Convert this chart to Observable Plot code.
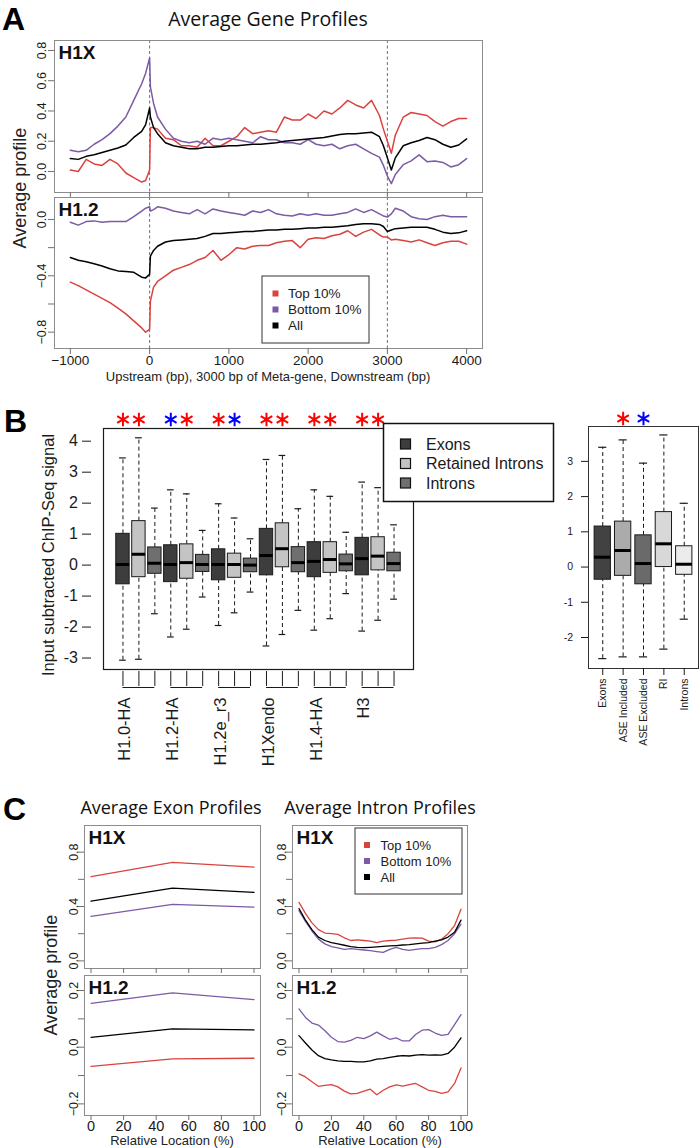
<!DOCTYPE html>
<html><head><meta charset="utf-8">
<script src="https://cdn.jsdelivr.net/npm/d3@7"></script>
<script src="https://cdn.jsdelivr.net/npm/@observablehq/plot@0.6"></script>
<style>
body{margin:0;background:#fff;}
#root{position:relative;width:700px;height:1148px;overflow:hidden;background:#fff;}
</style></head><body><div id="root"></div>
<script>
// ================= DATA =================
// Panel A: average gene profiles (x in bp)
const aX = [-1000,-900,-800,-700,-600,-500,-400,-300,-200,-100,
  -50,0,10,50,
  100,200,300,400,500,600,700,800,900,1000,
  1100,1200,1300,1400,1500,1600,1700,1800,1900,2000,
  2100,2200,2300,2400,2500,2600,2700,2800,2900,
  2950,3000,3050,
  3100,3200,3300,3400,3500,3600,3700,3800,3900,4000];
const aH1X_top = [0.01,0.00,0.08,0.05,0.04,0.08,0.05,-0.01,-0.04,-0.07,
  -0.06,0.01,0.29,0.29,
  0.28,0.22,0.21,0.17,0.17,0.16,0.22,0.17,0.17,0.20,
  0.23,0.29,0.25,0.26,0.27,0.26,0.36,0.34,0.34,0.38,
  0.35,0.40,0.38,0.42,0.47,0.44,0.42,0.47,0.37,
  0.28,0.20,0.12,
  0.24,0.36,0.39,0.38,0.37,0.33,0.30,0.33,0.35,0.35];
const aH1X_bottom = [0.14,0.13,0.14,0.18,0.21,0.25,0.30,0.36,0.47,0.58,
  0.65,0.75,0.56,0.45,
  0.36,0.28,0.22,0.20,0.19,0.20,0.18,0.22,0.21,0.22,
  0.21,0.20,0.19,0.23,0.21,0.21,0.19,0.19,0.18,0.21,
  0.18,0.17,0.18,0.15,0.17,0.18,0.15,0.12,0.095,
  0.04,-0.03,-0.08,
  -0.02,0.045,0.07,0.11,0.065,0.07,0.06,0.03,0.045,0.085];
const aH1X_all = [0.085,0.08,0.10,0.11,0.125,0.14,0.155,0.175,0.225,0.265,
  0.31,0.42,0.36,0.29,
  0.25,0.19,0.17,0.16,0.15,0.15,0.16,0.16,0.165,0.17,
  0.17,0.175,0.18,0.18,0.185,0.19,0.20,0.205,0.21,0.215,
  0.22,0.225,0.235,0.245,0.25,0.25,0.255,0.26,0.23,
  0.17,0.09,0.01,
  0.09,0.17,0.19,0.205,0.225,0.21,0.18,0.16,0.175,0.215];
const aH12_top = [-0.445,-0.47,-0.50,-0.53,-0.56,-0.59,-0.63,-0.67,-0.72,-0.77,
  -0.80,-0.78,-0.58,-0.48,
  -0.44,-0.40,-0.36,-0.34,-0.32,-0.29,-0.27,-0.22,-0.29,-0.25,
  -0.20,-0.21,-0.19,-0.185,-0.185,-0.165,-0.155,-0.15,-0.20,-0.14,
  -0.13,-0.135,-0.115,-0.105,-0.08,-0.12,-0.09,-0.07,-0.11,
  -0.125,-0.125,-0.145,
  -0.14,-0.15,-0.16,-0.145,-0.165,-0.185,-0.165,-0.155,-0.155,-0.175];
const aH12_bottom = [-0.02,-0.04,-0.015,-0.01,-0.02,-0.015,-0.015,-0.015,0.02,0.06,
  0.08,0.09,0.06,0.07,
  0.09,0.08,0.06,0.05,0.04,0.07,0.04,0.075,0.06,0.05,
  0.04,0.03,0.06,0.05,0.07,0.04,0.03,0.025,0.04,0.03,
  0.04,0.03,0.03,0.04,0.05,0.075,0.05,0.07,0.04,
  0.025,0.017,0.04,
  0.08,0.06,0.02,0.005,0.0,0.02,0.03,0.02,0.02,0.02];
const aH12_all = [-0.27,-0.29,-0.30,-0.315,-0.33,-0.35,-0.365,-0.37,-0.375,-0.41,
  -0.415,-0.39,-0.26,-0.22,
  -0.19,-0.16,-0.15,-0.145,-0.14,-0.135,-0.12,-0.10,-0.10,-0.095,
  -0.09,-0.085,-0.085,-0.08,-0.075,-0.075,-0.07,-0.07,-0.065,-0.06,
  -0.06,-0.055,-0.055,-0.05,-0.045,-0.035,-0.03,-0.03,-0.035,
  -0.05,-0.085,-0.075,
  -0.065,-0.06,-0.055,-0.055,-0.055,-0.07,-0.09,-0.10,-0.095,-0.08];
const aXDomain = [-1200, 4200];
const aH1XDomain = [-0.139, 0.866];
const aH12Domain = [-0.916, 0.156];
const aXTicks = [-1000,0,1000,2000,3000,4000];
const aH1XTicks = [0,0.2,0.4,0.6,0.8];
const aH12Ticks = [-0.8,-0.6,-0.4,-0.2,0];
const aH12Labeled = [-0.8,-0.4,0];
const aMarkers = [0,3000];
const profileLegend = ["Top 10%","Bottom 10%","All"];

// Panel B (left): boxplots per histone, 3 regions each
const bGroups = ["H1.0-HA","H1.2-HA","H1.2e_r3","H1Xendo","H1.4-HA","H3"];
const bRegions = ["Exons","Retained Introns","Introns"];
const bWHigh = [3.46,4.11,1.84, 2.43,2.30,1.12, 1.98,1.52,0.85, 3.41,3.54,1.82, 2.43,2.22,1.06, 2.68,2.50,1.30];
const bQ3    = [1.01,1.42,0.57, 0.64,0.67,0.33, 0.51,0.37,0.21, 1.17,1.35,0.58, 0.74,0.74,0.34, 0.88,0.90,0.40];
const bMed   = [0.02,0.35,0.06, 0.02,0.08,0.02, 0.02,0.02,0.00, 0.31,0.53,0.08, 0.12,0.18,0.04, 0.21,0.29,0.05];
const bQ1    = [-0.62,-0.39,-0.28, -0.55,-0.44,-0.22, -0.49,-0.41,-0.23, -0.33,-0.07,-0.23, -0.39,-0.25,-0.20, -0.33,-0.17,-0.20];
const bWLow  = [-3.07,-3.04,-1.57, -2.32,-2.07,-1.03, -1.95,-1.54,-0.87, -2.61,-2.24,-1.46, -2.10,-1.73,-0.92, -2.13,-1.78,-1.10];
const bStarColors = ["red","red", "blue","red", "red","blue", "red","red", "red","red", "red","red"];
const bYDomain = [-3.37, 4.41];
const bYTicks = [-3,-2,-1,0,1,2,3,4];
const bRegionFills = ["#3d3d3d","#c4c4c4","#6f6f6f"];

// Panel B (right)
const rCats = ["Exons","ASE Included","ASE Excluded","RI","Introns"];
const rWHigh = [3.40,3.61,2.95,3.75,1.81];
const rQ3    = [1.15,1.29,0.90,1.56,0.59];
const rMed   = [0.28,0.47,0.10,0.66,0.08];
const rQ1    = [-0.36,-0.25,-0.49,0.00,-0.22];
const rWLow  = [-2.60,-2.55,-2.55,-2.33,-1.48];
const rStars = [{cat: 2, color: "red"}, {cat: 3, color: "blue"}];
const rYDomain = [-2.88, 3.99];
const rYTicks = [-2,-1,0,1,2,3];
const rFills = ["#424242","#ababab","#6a6a6a","#d8d8d8","#ececec"];

// Panel C: exon and intron profiles
const cExonX = [0,50,100];
const cExonH1X_top = [0.62,0.725,0.69];
const cExonH1X_bottom = [0.328,0.416,0.396];
const cExonH1X_all = [0.44,0.536,0.504];
const cExonH12_top = [-0.068,-0.041,-0.039];
const cExonH12_bottom = [0.155,0.192,0.168];
const cExonH12_all = [0.035,0.065,0.061];
const cIntronX = [0,4,8,12,16,20,24,28,32,36,40,44,48,52,56,60,64,68,72,76,80,84,88,92,96,100];
const cIntronH1X_top = [0.43,0.35,0.28,0.23,0.205,0.20,0.195,0.17,0.15,0.155,0.15,0.145,0.135,0.145,0.15,0.152,0.16,0.168,0.17,0.168,0.145,0.14,0.16,0.20,0.26,0.38];
const cIntronH1X_all = [0.385,0.30,0.23,0.175,0.15,0.135,0.125,0.115,0.105,0.10,0.098,0.10,0.103,0.107,0.11,0.113,0.117,0.12,0.125,0.13,0.135,0.145,0.155,0.175,0.21,0.30];
const cIntronH1X_bottom = [0.37,0.29,0.22,0.16,0.125,0.105,0.095,0.085,0.09,0.085,0.08,0.075,0.068,0.062,0.085,0.10,0.085,0.078,0.085,0.09,0.09,0.10,0.12,0.15,0.20,0.27];
const cIntronH12_bottom = [0.135,0.105,0.085,0.078,0.058,0.035,0.02,0.018,0.024,0.035,0.03,0.04,0.053,0.04,0.028,0.033,0.022,0.022,0.045,0.06,0.062,0.05,0.042,0.045,0.08,0.115];
const cIntronH12_all = [0.041,0.015,-0.01,-0.03,-0.04,-0.045,-0.048,-0.05,-0.05,-0.052,-0.052,-0.048,-0.042,-0.04,-0.036,-0.032,-0.03,-0.031,-0.028,-0.026,-0.028,-0.027,-0.028,-0.022,0.0,0.033];
const cIntronH12_top = [-0.094,-0.105,-0.122,-0.138,-0.135,-0.132,-0.14,-0.155,-0.165,-0.163,-0.155,-0.148,-0.168,-0.152,-0.14,-0.133,-0.137,-0.132,-0.128,-0.14,-0.152,-0.156,-0.163,-0.158,-0.128,-0.073];
const cXDomain = [-4, 104];
const cTopDomain = [-0.056, 0.996];
const cBotDomain = [-0.241, 0.253];
const cXTicks = [0,20,40,60,80,100];
const cTopTicks = [0,0.2,0.4,0.6,0.8];
const cTopLabeled = [0,0.4,0.8];
const cBotTicks = [-0.2,-0.1,0,0.1,0.2];
const cBotLabeled = [-0.2,0,0.2];

// ================= STYLE =================
const FONT = "'Liberation Sans', Arial, Helvetica, sans-serif";
const OPEN = "'Open Sans', 'Liberation Sans', sans-serif";
const RED = "#d9433f", PURPLE = "#7b5aa6", BLACK = "#000000";
const FRAME_GREY = "#8c8c8c", TICK_GREY = "#6f6f6f";
const root = document.getElementById("root");

function fmt1(d) { return (d < 0 ? "\u2212" : "") + Math.abs(d).toFixed(1); }
function pts(xs, ys) { return xs.map((x, i) => ({x, y: ys[i]})); }
function framed(x0, y0, x1, y1, opts) {
  const svg = Plot.plot({
    width: x1 - x0, height: y1 - y0,
    marginTop: 0, marginRight: 0, marginBottom: 0, marginLeft: 0,
    style: {background: "transparent", overflow: "visible", fontFamily: FONT, color: "#1a1a1a"},
    ...opts
  });
  svg.style.position = "absolute";
  svg.style.left = x0 + "px";
  svg.style.top = y0 + "px";
  svg.style.overflow = "visible";
  root.appendChild(svg);
  return svg;
}
function profileLines(xs, top, bottom, all, sw) {
  return [
    Plot.line(pts(xs, top), {x: "x", y: "y", stroke: RED, strokeWidth: sw}),
    Plot.line(pts(xs, bottom), {x: "x", y: "y", stroke: PURPLE, strokeWidth: sw}),
    Plot.line(pts(xs, all), {x: "x", y: "y", stroke: BLACK, strokeWidth: sw})
  ];
}
function tag(label) {
  return Plot.text([label], {frameAnchor: "top-left", dx: 4, dy: 5, lineAnchor: "top", fontWeight: "bold", fontSize: 19, fill: "#111"});
}

// ================= PANEL A =================
framed(54, 40, 482, 192, {
  x: {domain: aXDomain, axis: null, label: null},
  y: {domain: aH1XDomain, axis: null, label: null},
  marks: [
    Plot.ruleX(aMarkers, {stroke: "#707070", strokeDasharray: "3,2.5"}),
    ...profileLines(aX, aH1X_top, aH1X_bottom, aH1X_all, 1.5),
    Plot.frame({stroke: FRAME_GREY}),
    Plot.axisY(aH1XTicks, {tickSize: 6, tickPadding: 3, tickRotate: -90, tickFormat: fmt1, fontSize: 12.5, stroke: TICK_GREY, label: null}),
    Plot.axisX(aXTicks, {tickSize: 5, tickFormat: () => "", stroke: TICK_GREY, label: null}),
    tag("H1X")
  ]
});
framed(54, 197, 482, 348, {
  x: {domain: aXDomain, axis: null, label: null},
  y: {domain: aH12Domain, axis: null, label: null},
  marks: [
    Plot.ruleX(aMarkers, {stroke: "#707070", strokeDasharray: "3,2.5"}),
    ...profileLines(aX, aH12_top, aH12_bottom, aH12_all, 1.5),
    Plot.frame({stroke: FRAME_GREY}),
    Plot.axisY(aH12Ticks, {tickSize: 6, tickPadding: 3, tickRotate: -90, tickFormat: d => aH12Labeled.includes(d) ? fmt1(d) : "", fontSize: 12.5, stroke: TICK_GREY, label: null}),
    Plot.axisX(aXTicks, {tickSize: 6, tickPadding: 1, tickFormat: d => (d < 0 ? "\u2212" : "") + Math.abs(d), fontSize: 13.5, stroke: TICK_GREY, label: null}),
    tag("H1.2")
  ]
});

// ================= PANEL B (left) =================
const bBoxes = bMed.map((m, i) => ({pos: i + 1, lo: bWLow[i], q1: bQ1[i], med: m, q3: bQ3[i], hi: bWHigh[i], fill: bRegionFills[i % 3]}));
const bGroupObjs = bGroups.map((g, i) => ({name: g, first: i * 3 + 1, last: i * 3 + 3}));
const bStarObjs = bStarColors.map((c, i) => ({pos: Math.floor(i / 2) * 3 + (i % 2) + 1, color: c}));
const bw = 0.42;
function boxMarks(data, hw, stroke) {
  return [
    Plot.ruleX(data, {x: "pos", y1: "q3", y2: "hi", stroke, strokeDasharray: "4,3"}),
    Plot.ruleX(data, {x: "pos", y1: "lo", y2: "q1", stroke, strokeDasharray: "4,3"}),
    Plot.ruleY(data, {y: "hi", x1: d => d.pos - hw / 2, x2: d => d.pos + hw / 2, stroke, strokeWidth: 1.2}),
    Plot.ruleY(data, {y: "lo", x1: d => d.pos - hw / 2, x2: d => d.pos + hw / 2, stroke, strokeWidth: 1.2}),
    Plot.rect(data, {x1: d => d.pos - hw, x2: d => d.pos + hw, y1: "q1", y2: "q3", fill: "fill", stroke, strokeWidth: 1}),
    Plot.ruleY(data, {y: "med", x1: d => d.pos - hw, x2: d => d.pos + hw, stroke: "#000", strokeWidth: 3})
  ];
}
framed(103, 428, 413, 669, {
  x: {domain: [-0.22, 19.22], axis: null, label: null},
  y: {domain: bYDomain, axis: null, label: null},
  color: {type: "identity"},
  marks: [
    ...boxMarks(bBoxes, bw, "#1a1a1a"),
    Plot.frame({stroke: "#1a1a1a", strokeWidth: 1.2}),
    Plot.axisY(bYTicks, {tickSize: 9, tickPadding: 4.5, dx: -12, fontSize: 16, tickFormat: d => String(d), stroke: "#1a1a1a", label: null}),
    Plot.axisX(bBoxes.map(d => d.pos), {tickSize: 15, dy: 2, tickFormat: () => "", stroke: "#1a1a1a", label: null}),
    Plot.ruleY(bGroupObjs, {x1: "first", x2: "last", y: bYDomain[0], dy: 18, stroke: "#1a1a1a"}),
    Plot.text(bGroupObjs, {x: "first", text: "name", frameAnchor: "bottom", dy: 28, dx: 2, rotate: -90, textAnchor: "end", lineAnchor: "middle", fontSize: 16.5, fill: "#1a1a1a"}),
    Plot.dot(bStarObjs, {x: "pos", frameAnchor: "top", dy: -9, symbol: "asterisk", r: 6.3, stroke: "color", strokeWidth: 2})
  ]
});

// ================= PANEL B (right) =================
const rBoxes = rMed.map((m, i) => ({pos: i + 1, lo: rWLow[i], q1: rQ1[i], med: m, q3: rQ3[i], hi: rWHigh[i], fill: rFills[i]}));
framed(588, 426, 698, 668, {
  x: {domain: [0.3, 5.7], axis: null, label: null},
  y: {domain: rYDomain, axis: null, label: null},
  color: {type: "identity"},
  marks: [
    ...boxMarks(rBoxes, 0.4, "#1a1a1a"),
    Plot.frame({stroke: "#333", strokeWidth: 1}),
    Plot.axisY(rYTicks, {tickSize: 7, tickPadding: 8.5, fontSize: 10.5, tickFormat: d => String(d), stroke: "#1a1a1a", label: null}),
    Plot.axisX(rBoxes.map(d => d.pos), {tickSize: 7, tickRotate: -90, fontSize: 10.5, tickFormat: d => rCats[d - 1], stroke: "#1a1a1a", label: null}),
    Plot.dot(rStars, {x: "cat", frameAnchor: "top", dy: -8, symbol: "asterisk", r: 6.3, stroke: "color", strokeWidth: 2})
  ]
});

// ================= PANEL C =================
function cPanel(x0, y0, x1, y1, yDomain, ticks, labeled, xs, top, bottom, all, label, bottomAxis) {
  framed(x0, y0, x1, y1, {
    x: {domain: cXDomain, axis: null, label: null},
    y: {domain: yDomain, axis: null, label: null},
    marks: [
      ...profileLines(xs, top, bottom, all, 1.3),
      Plot.frame({stroke: FRAME_GREY}),
      Plot.axisY(ticks, {tickSize: 6, tickPadding: 1, tickRotate: -90, tickFormat: d => labeled.includes(d) ? fmt1(d) : "", fontSize: 12.5, stroke: TICK_GREY, label: null}),
      bottomAxis
        ? Plot.axisX(cXTicks, {tickSize: 5, tickPadding: 0, fontSize: 14.5, tickFormat: d => String(d), stroke: TICK_GREY, label: null})
        : Plot.axisX(cXTicks, {tickSize: 5, tickFormat: () => "", stroke: TICK_GREY, label: null}),
      tag(label)
    ]
  });
}
cPanel(84, 825, 260, 968, cTopDomain, cTopTicks, cTopLabeled, cExonX, cExonH1X_top, cExonH1X_bottom, cExonH1X_all, "H1X", false);
cPanel(84, 975, 260, 1115, cBotDomain, cBotTicks, cBotLabeled, cExonX, cExonH12_top, cExonH12_bottom, cExonH12_all, "H1.2", true);
cPanel(292, 825, 467, 968, cTopDomain, cTopTicks, cTopLabeled, cIntronX, cIntronH1X_top, cIntronH1X_bottom, cIntronH1X_all, "H1X", false);
cPanel(292, 975, 467, 1115, cBotDomain, cBotTicks, cBotLabeled, cIntronX, cIntronH12_top, cIntronH12_bottom, cIntronH12_all, "H1.2", true);

// ================= OVERLAY TEXT & LEGENDS =================
const ov = d3.select(root).append("svg").attr("width", 700).attr("height", 1148)
  .style("position", "absolute").style("left", "0px").style("top", "0px").style("overflow", "visible");
function T(str, x, y, o = {}) {
  const t = ov.append("text").attr("x", x).attr("y", y).text(str)
    .attr("font-family", o.family || FONT).attr("font-size", o.size || 13)
    .attr("font-weight", o.weight || "normal").attr("fill", o.fill || "#111")
    .attr("text-anchor", o.anchor || "start");
  if (o.rotate) t.attr("transform", `rotate(${o.rotate},${x},${y})`);
  if (o.dy) t.attr("dy", o.dy);
  return t;
}
T("A", 2, 30, {size: 32, weight: "bold", fill: "#000"});
T("B", 4, 432, {size: 32, weight: "bold", fill: "#000"});
T("C", 3, 820, {size: 32, weight: "bold", fill: "#000"});
T("Average Gene Profiles", 268, 26, {size: 19.5, anchor: "middle", family: OPEN});
T("Average Exon Profiles", 171, 813.5, {size: 18, anchor: "middle", family: OPEN});
T("Average Intron Profiles", 380, 813.5, {size: 18, anchor: "middle", family: OPEN});
T("Average profile", 20, 188, {size: 18, anchor: "middle", rotate: -90, dy: "0.36em", fill: "#222"});
T("Upstream (bp), 3000 bp of Meta-gene, Downstream (bp)", 268, 381, {size: 13, anchor: "middle", fill: "#222"});
T("Input subtracted ChIP-Seq signal", 48, 555, {size: 16.5, anchor: "middle", rotate: -90, dy: "0.36em", fill: "#1a1a1a"});
T("Average profile", 51, 975, {size: 18, anchor: "middle", rotate: -90, dy: "0.36em", fill: "#222"});
T("Relative Location (%)", 172, 1145, {size: 13, anchor: "middle", fill: "#222"});
T("Relative Location (%)", 380, 1145, {size: 13, anchor: "middle", fill: "#222"});

function profileLegendBox(x0, y0, x1, y1, sqX, rows, textX, size) {
  ov.append("rect").attr("x", x0).attr("y", y0).attr("width", x1 - x0).attr("height", y1 - y0)
    .attr("fill", "#fff").attr("stroke", "#333").attr("stroke-width", 1);
  const cols = [RED, PURPLE, BLACK];
  profileLegend.forEach((lab, i) => {
    ov.append("rect").attr("x", sqX).attr("y", rows[i] - 3).attr("width", 6).attr("height", 6).attr("fill", cols[i]);
    T(lab, textX, rows[i], {size, dy: "0.36em", fill: "#222"});
  });
}
profileLegendBox(262, 276, 369, 343, 272.5, [293.5, 309.5, 325.5], 288, 13.5);
profileLegendBox(355, 828, 462, 894, 364, [845, 861, 877], 380.5, 13);

// Panel B legend (covers the frame corner)
ov.append("rect").attr("x", 383.5).attr("y", 423.5).attr("width", 170).attr("height", 78)
  .attr("fill", "#fff").attr("stroke", "#111").attr("stroke-width", 1.5);
bRegions.forEach((lab, i) => {
  const cy = [444, 463.5, 483][i];
  ov.append("rect").attr("x", 400.5).attr("y", cy - 5).attr("width", 10).attr("height", 10)
    .attr("fill", bRegionFills[i]).attr("stroke", "#111").attr("stroke-width", 1.2);
  T(lab, 426, cy, {size: 16, dy: "0.36em", fill: "#1a1a1a"});
});
</script></body></html>
